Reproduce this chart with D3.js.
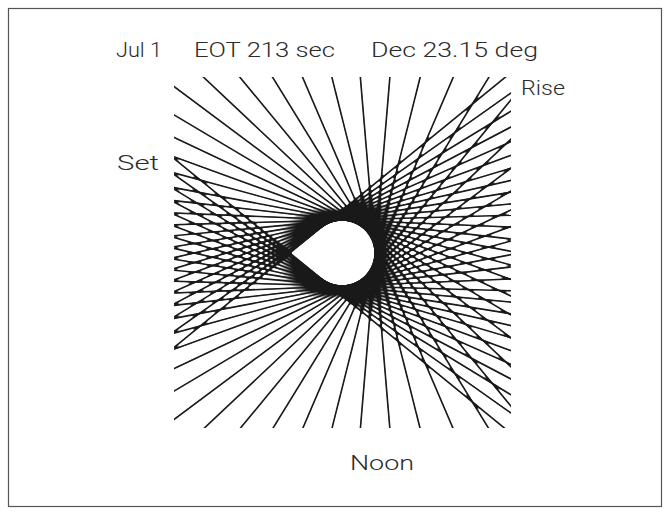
<!DOCTYPE html>
<html>
<head>
<meta charset="utf-8">
<script src="https://cdn.jsdelivr.net/npm/d3@7"></script>
<style>
  html, body { margin: 0; padding: 0; background: #ffffff; }
  svg { display: block; }
  text { font-family: Roboto, Lato, "Open Sans", "DejaVu Sans", sans-serif; font-weight: 300; fill: #2b2b2b; }
</style>
</head>
<body>
<svg id="chart" width="671" height="514"></svg>
<script>
// Sun azimuth for each 20-minute step from sunrise to sunset (degrees from south, morning positive)
const azimuthDeg = [
  129.2, 125.3, 121.4, 117.7, 114.0, 110.3, 106.6, 102.9, 99.2, 95.4,
  91.6, 87.6, 83.5, 79.3, 74.7, 70.0, 64.8, 59.3, 53.3, 46.7,
  39.5, 31.6, 23.2, 14.1, 4.8,
  -4.8, -14.1, -23.2, -31.6, -39.5, -46.7, -53.3, -59.3, -64.8, -70.0,
  -74.7, -79.3, -83.5, -87.6, -91.6, -95.4, -99.2, -102.9, -106.6, -110.3,
  -114.0, -117.7, -121.4, -125.3, -129.2
];
// distance of every shadow line from the gnomon centre (chart units)
const lineOffset = 33;
// chart extent in chart units
const xExtent = [-168, 169];
const yExtent = [-175, 176];

const titleParts = ["Jul 1", "EOT 213 sec", "Dec 23.15 deg"];
const endLabels = { rise: "Rise", set: "Set", noon: "Noon" };

const svg = d3.select("#chart");

// pen ink: where strokes crowd together they run into solid black
const ink = svg.append("defs").append("filter")
  .attr("id", "ink")
  .attr("filterUnits", "userSpaceOnUse")
  .attr("x", 150).attr("y", 60).attr("width", 380).attr("height", 390)
  .attr("color-interpolation-filters", "sRGB");
ink.append("feGaussianBlur").attr("in", "SourceGraphic").attr("stdDeviation", 1.2).attr("result", "soft");
ink.append("feComponentTransfer").attr("in", "soft")
  .append("feFuncA").attr("type", "linear").attr("slope", 4.5).attr("intercept", -2.0);

svg.append("rect")
  .attr("x", 8.5).attr("y", 8.5)
  .attr("width", 653).attr("height", 498)
  .attr("fill", "none")
  .attr("stroke", "#555")
  .attr("stroke-width", 1.2);

const x = d3.scaleLinear().domain(xExtent).range([174, 511]);
const y = d3.scaleLinear().domain(yExtent).range([428, 77]);

svg.append("clipPath").attr("id", "plotClip")
  .append("rect")
  .attr("x", x(xExtent[0])).attr("y", y(yExtent[1]))
  .attr("width", x(xExtent[1]) - x(xExtent[0]))
  .attr("height", y(yExtent[0]) - y(yExtent[1]));

// each line: normal pointing along the azimuth, at lineOffset from the centre
const reach = 1000;
const lines = azimuthDeg.map(a => {
  const r = a * Math.PI / 180;
  const nx = Math.cos(r), ny = Math.sin(r);
  const px = lineOffset * nx, py = lineOffset * ny;
  const dx = -ny, dy = nx;
  return { x1: px - reach * dx, y1: py - reach * dy, x2: px + reach * dx, y2: py + reach * dy };
});

function drawLines(g, width) {
  g.selectAll("line")
    .data(lines)
    .join("line")
    .attr("x1", d => x(d.x1)).attr("y1", d => y(d.y1))
    .attr("x2", d => x(d.x2)).attr("y2", d => y(d.y2))
    .attr("stroke", "#1a1a1a")
    .attr("stroke-width", width);
}

// merged ink where lines crowd near the gnomon
drawLines(svg.append("g").attr("filter", "url(#ink)")
  .append("g").attr("clip-path", "url(#plotClip)"), 1.7);
// the individual shadow lines
drawLines(svg.append("g").attr("clip-path", "url(#plotClip)"), 1.6);

// title
const titleX = [116, 194, 371];
const titleW = [46, 141, 167];
svg.selectAll("text.title")
  .data(titleParts)
  .join("text")
  .attr("class", "title")
  .attr("x", (d, i) => titleX[i])
  .attr("y", 57)
  .attr("font-size", 21)
  .attr("textLength", (d, i) => titleW[i])
  .attr("lengthAdjust", "spacingAndGlyphs")
  .text(d => d);

svg.append("text").attr("x", 521).attr("y", 95).attr("font-size", 21)
  .attr("textLength", 44).attr("lengthAdjust", "spacingAndGlyphs").text(endLabels.rise);
svg.append("text").attr("x", 117).attr("y", 170).attr("font-size", 21)
  .attr("textLength", 42).attr("lengthAdjust", "spacingAndGlyphs").text(endLabels.set);
svg.append("text").attr("x", 350).attr("y", 470).attr("font-size", 21)
  .attr("textLength", 64).attr("lengthAdjust", "spacingAndGlyphs").text(endLabels.noon);
</script>
</body>
</html>
